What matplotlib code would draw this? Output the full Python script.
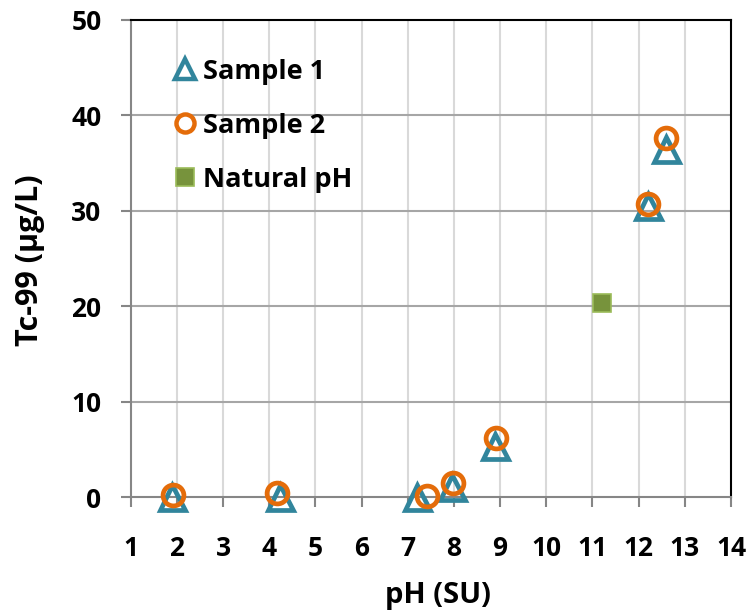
import matplotlib
matplotlib.use("Agg")
import matplotlib.pyplot as plt
from matplotlib.lines import Line2D

plt.rcParams['font.family'] = ['Open Sans', 'DejaVu Sans']
plt.rcParams['font.weight'] = 'bold'

# pH and Tc-99 concentration for each series
ph_sample1 = [1.89, 4.24, 7.19, 7.95, 8.89, 12.21, 12.60]
tc_sample1 = [0.0, 0.0, 0.0, 1.1, 5.3, 30.5, 36.5]

ph_sample2 = [1.91, 4.16, 7.41, 7.97, 8.91, 12.21, 12.59]
tc_sample2 = [0.2, 0.45, 0.1, 1.5, 6.15, 30.7, 37.6]

ph_natural = [11.21]
tc_natural = [20.3]

x_ticks = list(range(1, 15))
y_ticks = [0, 10, 20, 30, 40, 50]

TEAL = '#31859C'
ORANGE = '#E46C0A'
GREEN = '#77933C'
GREEN_EDGE = '#9BBB59'

fig = plt.figure(figsize=(7.5, 6.15), dpi=100)
ax = fig.add_axes([130.7 / 750, 1 - 497 / 615, (731 - 130.7) / 750, (497 - 20) / 615])

ax.plot(ph_sample1, tc_sample1, linestyle='none', marker='^', markersize=18,
        markerfacecolor='none', markeredgecolor=TEAL, markeredgewidth=3.4,
        zorder=3, clip_on=False)
ax.plot(ph_sample2, tc_sample2, linestyle='none', marker='o', markersize=15,
        markerfacecolor='none', markeredgecolor=ORANGE, markeredgewidth=3.4,
        zorder=4, clip_on=False)
ax.plot(ph_natural, tc_natural, linestyle='none', marker='s', markersize=12.5,
        markerfacecolor=GREEN, markeredgecolor=GREEN_EDGE, markeredgewidth=1.2,
        zorder=3, clip_on=False)

ax.set_xlim(1, 14)
ax.set_ylim(0, 50)
ax.set_xticks(x_ticks)
ax.set_yticks(y_ticks)

# vertical grid light, horizontal grid darker
for x in x_ticks[1:-1]:
    ax.axvline(x, color='#d9d9d9', linewidth=1.5, zorder=0)
for y in y_ticks[1:-1]:
    ax.axhline(y, color='#a6a6a6', linewidth=1.5, zorder=0)

for side in ('left', 'bottom'):
    ax.spines[side].set_color('#868686')
    ax.spines[side].set_linewidth(1.5)
for side in ('top', 'right'):
    ax.spines[side].set_color('black')
    ax.spines[side].set_linewidth(1.5)

ax.tick_params(axis='both', which='major', direction='out', length=7,
               width=1.5, color='#868686', labelsize=19)
ax.tick_params(axis='x', pad=20)
ax.tick_params(axis='y', pad=14)
for lbl in ax.get_xticklabels() + ax.get_yticklabels():
    lbl.set_fontweight('bold')

fig.text(438 / 750, 1 - 595 / 615, 'pH (SU)', fontsize=21, fontweight='bold',
         ha='center', va='center')
fig.text(30 / 750, 1 - 260 / 615, 'Tc-99 (µg/L)', fontsize=22, fontweight='bold',
         ha='center', va='center', rotation=90)

handles = [
    Line2D([], [], linestyle='none', marker='^', markersize=15,
           markerfacecolor='none', markeredgecolor=TEAL, markeredgewidth=3.2),
    Line2D([], [], linestyle='none', marker='o', markersize=13,
           markerfacecolor='none', markeredgecolor=ORANGE, markeredgewidth=3.2),
    Line2D([], [], linestyle='none', marker='s', markersize=13,
           markerfacecolor=GREEN, markeredgecolor=GREEN_EDGE, markeredgewidth=1.2),
]
labels = ['Sample 1', 'Sample 2', 'Natural pH']
ax.legend(handles, labels, loc='upper left', bbox_to_anchor=(0.061, 0.919),
          frameon=False, prop={'weight': 'bold', 'size': 19.5},
          handletextpad=0.0, labelspacing=1.04, handlelength=1.3,
          borderaxespad=0, borderpad=0)

fig.savefig('out.png', dpi=100)
